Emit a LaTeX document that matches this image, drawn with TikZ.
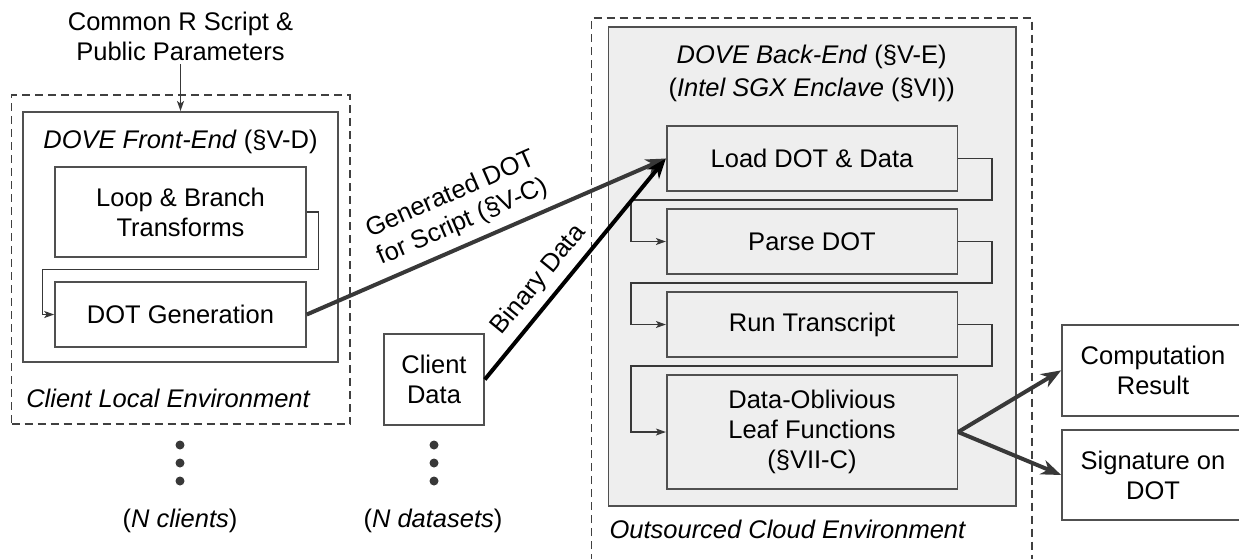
\documentclass[tikz,border=0pt]{standalone}
\usepackage{fontspec}
\setmainfont{Liberation Sans}
\usetikzlibrary{arrows.meta,calc}
\definecolor{boxc}{HTML}{505050}
\definecolor{dashc}{HTML}{404040}
\definecolor{encl}{HTML}{EEEEEE}
\definecolor{arrc}{HTML}{383838}
\begin{document}
\begin{tikzpicture}[x=1pt,y=-1pt,
  every node/.style={font=\fontsize{25.5}{30}\selectfont},
  blk/.style={draw=boxc, line width=1.6pt, inner sep=0pt, align=center},
  dashbox/.style={draw=dashc, line width=1.3pt, dash pattern=on 8pt off 5pt},
  conn/.style={draw=arrc, line width=1.3pt, -{Stealth[length=10pt,width=7pt,inset=2.5pt]}},
  bigarr/.style={line width=4pt, -{Stealth[length=20pt,width=15pt,inset=6pt]}},
]
\useasboundingbox (0,0) rectangle (1239,558);
\clip (0,0) rectangle (1239,558);

% ---------- client side ----------
\node[dashbox, inner sep=0pt, minimum width=338.5pt, minimum height=329pt] (clientenv) at (180.75,259.5) {};
\node[blk, line width=2pt, minimum width=315pt, minimum height=250pt] (fe) at (180.5,237) {};
\node[anchor=base] (fetitle) at (180.5,148) {\textit{DOVE Front-End} (§V-D)};
\node[blk, minimum width=251pt, minimum height=90pt] (loop) at (180.5,212) {Loop \& Branch\\Transforms};
\node[blk, minimum width=251pt, minimum height=65pt] (dotgen) at (180.5,314.5) {DOT Generation};
\node[anchor=base] (clientlbl) at (168.5,407) {\textit{Client Local Environment}};

\node[anchor=south, align=center, inner sep=3.5pt] (params) at (180.5,64) {Common R Script \&\\Public Parameters};
\draw[conn] (params.south) -- (fe.north);

\draw[conn] (loop.east) -- ++(12,0) |- ($(loop.south)!.5!(dotgen.north)$) -| ([xshift=-12pt]dotgen.west) -- (dotgen.west);

\node[blk, minimum width=100pt, minimum height=91pt] (cdata) at (434,379.5) {Client\\Data};

\foreach \y in {445,463,481} {
  \fill[arrc] (180,\y) circle (4.5pt);
  \fill[arrc] (434,\y) circle (4.5pt);
}
\node[anchor=base] (nclients) at (180,527) {(\textit{N clients})};
\node[anchor=base] (ndata) at (433,527) {(\textit{N datasets})};

% ---------- cloud side ----------
\draw[dashbox] (591.7,575) -- (591.7,18) -- (1032,18) -- (1032,575);
\node[blk, fill=encl, minimum width=407.4pt, minimum height=479.3pt] (encl) at (812,266.35) {};
\node[anchor=base] (betitle1) at (811.7,63) {\textit{DOVE Back-End} (§V-E)};
\node[anchor=base] (betitle2) at (811.7,96.5) {(\textit{Intel SGX Enclave} (§VI))};

\node[blk, fill=encl, minimum width=290.6pt, minimum height=65pt] (load) at (812,158.5) {Load DOT \& Data};
\node[blk, fill=encl, minimum width=290.6pt, minimum height=65pt] (parse) at (812,241.5) {Parse DOT};
\node[blk, fill=encl, minimum width=290.6pt, minimum height=65pt] (run) at (812,324.5) {Run Transcript};
\node[blk, fill=encl, minimum width=290.6pt, minimum height=114pt] (leaf) at (812,432) {Data-Oblivious\\Leaf Functions\\(§VII-C)};

\foreach \a/\b in {load/parse, parse/run, run/leaf}
  \draw[conn] (\a.east) -- ++(34,0) |- ($(\a.south)!.5!(\b.north)$) -| ([xshift=-35pt]\b.west) -- (\b.west);

\node[anchor=base west] (cloudlbl) at (606,538) {\textit{Outsourced Cloud Environment}};

\node[blk, minimum width=182pt, minimum height=90.7pt] (comp) at (1153,370.35) {Computation\\Result};
\node[blk, minimum width=182pt, minimum height=90pt] (sig) at (1153,475) {Signature on\\DOT};

% ---------- big arrows ----------
\draw[bigarr, arrc] (dotgen.east) -- node[pos=.46, sloped, above=5pt, align=center, text=black] {Generated DOT\\for Script (§V-C)} (load.west);
\draw[bigarr, black] (cdata.east) -- node[pos=.39, sloped, above=4pt] {Binary Data} (load.west);
\draw[bigarr, arrc] (leaf.east) -- (comp.west);
\draw[bigarr, arrc] (leaf.east) -- (sig.west);
\end{tikzpicture}
\end{document}
